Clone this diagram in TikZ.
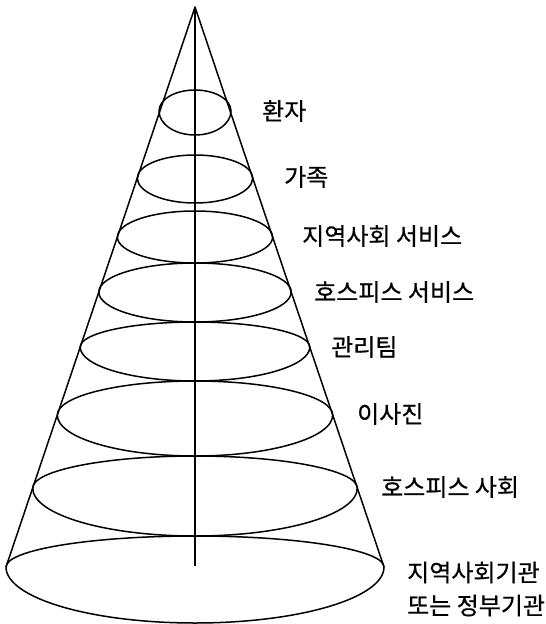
\documentclass[tikz,border=0pt]{standalone}
\usepackage{fontspec}
\usepackage{tikz}
\newfontfamily\krfont[FakeBold=0.6]{Noto Sans CJK KR}

\begin{document}
\begin{tikzpicture}[
    x=1pt, y=-1pt,
    cone/.style={line width=1.5pt, line join=round},
    ring/.style={line width=1.5pt},
    level/.style={anchor=west, inner sep=0pt, align=left, font=\krfont\fontsize{24}{33}\selectfont}
]
\useasboundingbox (0,0) rectangle (546,624);

% cone and axis
\coordinate (apex) at (195,7);
\coordinate (baseL) at (6,567);
\coordinate (baseR) at (384,567);
\coordinate (axisend) at (195,566);
\draw[cone] (baseL) -- (apex) -- (baseR);
\draw[cone] (apex) -- (axisend);

% rings, top to bottom
\draw[ring] (159,111) arc[start angle=180, end angle=0, x radius=36pt, y radius=21pt]
    arc[start angle=0, end angle=-180, x radius=36pt, y radius=24pt];
\draw[ring] (137.3,178) arc[start angle=180, end angle=0, x radius=57.7pt, y radius=23pt]
    arc[start angle=0, end angle=-180, x radius=57.7pt, y radius=25pt];
\draw[ring] (117.4,237) arc[start angle=180, end angle=0, x radius=77.6pt, y radius=26pt]
    arc[start angle=0, end angle=-180, x radius=77.6pt, y radius=26pt];
\draw[ring] (98.8,292) arc[start angle=180, end angle=0, x radius=96.2pt, y radius=29pt]
    arc[start angle=0, end angle=-180, x radius=96.2pt, y radius=30pt];
\draw[ring] (80.2,347) arc[start angle=180, end angle=0, x radius=114.8pt, y radius=25pt]
    arc[start angle=0, end angle=-180, x radius=114.8pt, y radius=34pt];
\draw[ring] (57.3,415) arc[start angle=180, end angle=0, x radius=137.7pt, y radius=34pt]
    arc[start angle=0, end angle=-180, x radius=137.7pt, y radius=41pt];
\draw[ring] (32.7,488) arc[start angle=180, end angle=0, x radius=162.3pt, y radius=32pt]
    arc[start angle=0, end angle=-180, x radius=162.3pt, y radius=48pt];
\draw[ring] (baseL) arc[start angle=180, end angle=0, x radius=189pt, y radius=31pt]
    arc[start angle=0, end angle=-180, x radius=189pt, y radius=56pt];

% labels
\node[level] (patient) at (262,111) {환자};
\node[level] (family) at (284,177) {가족};
\node[level] (commserv) at (302,236) {지역사회 서비스};
\node[level] (hospserv) at (314,292) {호스피스 서비스};
\node[level] (team) at (331,347) {관리팀};
\node[level] (board) at (357,414) {이사진};
\node[level] (society) at (381,487) {호스피스 사회};
\node[level] (agency) at (407,589) {지역사회기관\\또는 정부기관};

\end{tikzpicture}
\end{document}
